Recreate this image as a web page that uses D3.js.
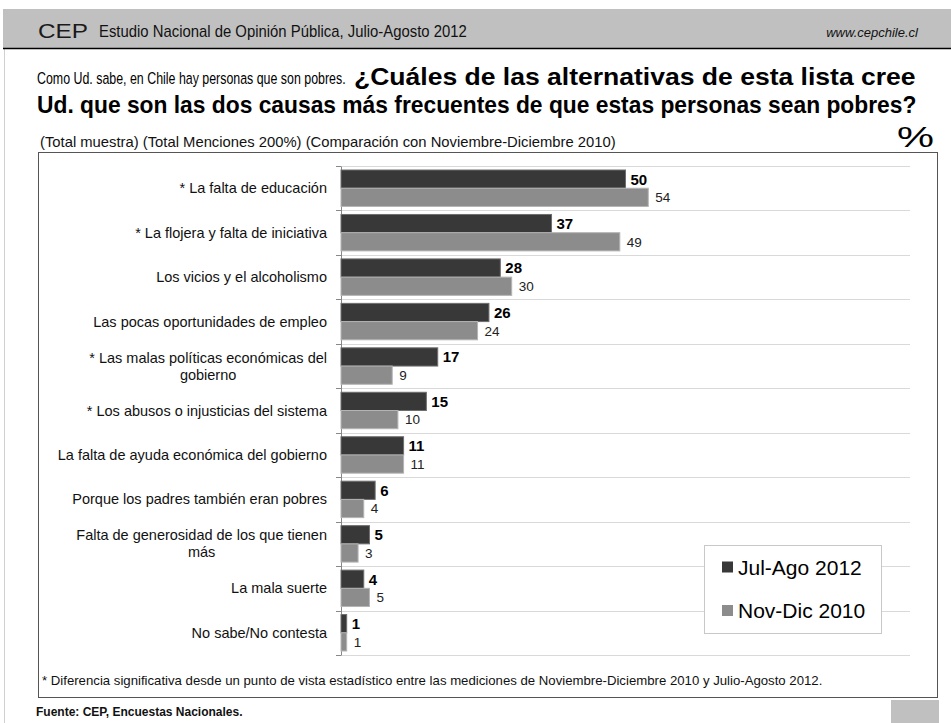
<!DOCTYPE html>
<html>
<head>
<meta charset="utf-8">
<script src="https://cdn.jsdelivr.net/npm/d3@7/dist/d3.min.js"></script>
<style>
  html, body { margin: 0; padding: 0; background: #fff; }
  svg { display: block; }
  text { font-family: "Liberation Sans", Arial, sans-serif; }
</style>
</head>
<body>
<svg id="chart" width="951" height="723"></svg>
<script>
const categories = [
  "* La falta de educación",
  "* La flojera y falta de iniciativa",
  "Los vicios y el alcoholismo",
  "Las pocas oportunidades de empleo",
  "* Las malas políticas económicas del|gobierno",
  "* Los abusos o injusticias del sistema",
  "La falta de ayuda económica del gobierno",
  "Porque los padres también eran pobres",
  "Falta de generosidad de los que tienen|más",
  "La mala suerte",
  "No sabe/No contesta"
];
const seriesNames = ["Jul-Ago 2012", "Nov-Dic 2010"];
const julAgo2012 = [50, 37, 28, 26, 17, 15, 11, 6, 5, 4, 1];
const novDic2010 = [54, 49, 30, 24, 9, 10, 11, 4, 3, 5, 1];
const xTicks = [0, 100];

const svg = d3.select("#chart");
const W = 951, H = 723;

// text scaled horizontally (via transform) to a target width
function fitText(opts) {
  const t = svg.append("text")
    .attr("font-size", opts.size)
    .attr("font-weight", opts.weight || "normal")
    .attr("font-style", opts.style || "normal")
    .attr("text-anchor", opts.anchor || "start")
    .attr("fill", opts.fill || "#111")
    .text(opts.text);
  if (opts.width) {
    const nat = t.node().getComputedTextLength();
    const sx = opts.width / nat;
    t.attr("x", 0).attr("y", 0)
     .attr("transform", `translate(${opts.x},${opts.y}) scale(${sx},1)`);
  } else {
    t.attr("x", opts.x).attr("y", opts.y);
  }
  return t;
}

// page left border line
svg.append("line").attr("x1", 4.5).attr("x2", 4.5).attr("y1", 49).attr("y2", H)
  .attr("stroke", "#d0d0d0").attr("stroke-width", 1);

// header band
svg.append("rect").attr("x", 3).attr("y", 9).attr("width", W - 3).attr("height", 39).attr("fill", "#c0c0c0");
svg.append("line").attr("x1", 3).attr("x2", W).attr("y1", 48.5).attr("y2", 48.5).attr("stroke", "#000").attr("stroke-width", 1.5);
fitText({x: 38, y: 38, size: 21, width: 50, fill: "#1a1a1a", text: "CEP"});
fitText({x: 99, y: 37, size: 16, width: 368, text: "Estudio Nacional de Opinión Pública, Julio-Agosto  2012"});
fitText({x: 918, y: 37, size: 13, style: "italic", anchor: "end", text: "www.cepchile.cl"});

// title
fitText({x: 37, y: 84, size: 16.5, width: 309, fill: "#000", text: "Como Ud. sabe, en Chile hay personas que son pobres."});
fitText({x: 354, y: 85, size: 23.5, weight: "bold", width: 562, fill: "#000", text: "¿Cuáles de las alternativas de esta lista cree"});
fitText({x: 37, y: 113, size: 23, weight: "bold", width: 880, fill: "#000", text: "Ud. que son las dos causas más frecuentes de que estas personas sean pobres?"});

// subtitle
fitText({x: 40, y: 147, size: 14.8, text: "(Total muestra) (Total Menciones 200%) (Comparación con Noviembre-Diciembre 2010)"});
fitText({x: 897, y: 147, size: 29, width: 37, fill: "#000", text: "%"});

// chart frame
svg.append("rect").attr("x", 38.5).attr("y", 152.5).attr("width", 899).attr("height", 545)
  .attr("fill", "none").attr("stroke", "#555").attr("stroke-width", 1);

// scales
const x = d3.scaleLinear().domain([xTicks[0], xTicks[1]]).range([341, 910]);
const y = d3.scaleBand().domain(categories).range([166, 655]).paddingInner(0).paddingOuter(0);
const ySub = d3.scaleBand().domain(seriesNames).range([0, y.bandwidth()]).paddingInner(0).paddingOuter(0.22);

// gridlines at category boundaries
const bounds = categories.map(c => y(c)).concat([y.range()[1]]);
svg.append("g").selectAll("line").data(bounds).join("line")
  .attr("x1", x(0)).attr("x2", x(100))
  .attr("y1", d => Math.round(d) + 0.5).attr("y2", d => Math.round(d) + 0.5)
  .attr("stroke", "#d9d9d9").attr("stroke-width", 1);

// axis
const axis = d3.axisLeft(y).tickSize(0).tickFormat("");
const gAxis = svg.append("g").attr("transform", `translate(${x(0)},0)`).call(axis);
gAxis.select(".domain").attr("stroke", "#888");
svg.append("g").selectAll("line").data(bounds).join("line")
  .attr("x1", x(0) - 5).attr("x2", x(0))
  .attr("y1", d => Math.round(d) + 0.5).attr("y2", d => Math.round(d) + 0.5)
  .attr("stroke", "#888");

// bars
const colors = ["#383838", "#8c8c8c"];
const strokes = ["#6e6e6e", "#b4b4b4"];
const seriesData = [julAgo2012, novDic2010];
seriesData.forEach((vals, si) => {
  const g = svg.append("g");
  g.selectAll("rect").data(vals).join("rect")
    .attr("x", x(0))
    .attr("y", (d, i) => y(categories[i]) + ySub(seriesNames[si]))
    .attr("width", d => x(d) - x(0))
    .attr("height", ySub.bandwidth())
    .attr("fill", colors[si]).attr("stroke", strokes[si]).attr("stroke-width", 1);
  g.selectAll("text").data(vals).join("text")
    .attr("x", d => x(d) + (si === 0 ? 5 : 7))
    .attr("y", (d, i) => y(categories[i]) + ySub(seriesNames[si]) + ySub.bandwidth() / 2)
    .attr("dy", "0.36em")
    .attr("font-size", si === 0 ? 15 : 13.5)
    .attr("font-weight", si === 0 ? "bold" : "normal")
    .attr("fill", si === 0 ? "#000" : "#222")
    .text(d => d);
});

// category labels
const labelRight = 327;
categories.forEach(c => {
  const lines = c.split("|");
  const cy = y(c) + y.bandwidth() / 2;
  const lh = 17;
  const t = svg.append("text").attr("font-size", 14.5).attr("fill", "#111");
  const spans = lines.map(ln => t.append("tspan").text(ln));
  const widths = spans.map(s => s.node().getComputedTextLength());
  const maxW = Math.max(...widths);
  const cx = labelRight - maxW / 2;
  spans.forEach((s, i) => {
    s.attr("x", cx).attr("text-anchor", "middle")
     .attr("y", cy + (i - (lines.length - 1) / 2) * lh).attr("dy", "0.35em");
  });
});

// legend
const lg = svg.append("g");
lg.append("rect").attr("x", 704.5).attr("y", 545.5).attr("width", 177).attr("height", 88)
  .attr("fill", "#fff").attr("stroke", "#c8c8c8");
seriesNames.forEach((s, i) => {
  const ly = 567 + i * 43.5;
  lg.append("rect").attr("x", 722).attr("y", ly - 5.5).attr("width", 11).attr("height", 11).attr("fill", colors[i]);
  lg.append("text").attr("x", 738).attr("y", ly).attr("dy", "0.36em")
    .attr("font-size", 21).attr("fill", "#000").text(s);
});

// footnote
fitText({x: 42, y: 685, size: 13.2, width: 780, text: "* Diferencia significativa desde un punto de vista estadístico entre las mediciones de Noviembre-Diciembre 2010 y Julio-Agosto 2012."});
fitText({x: 36, y: 716, size: 12, weight: "bold", text: "Fuente: CEP, Encuestas Nacionales."});
svg.append("rect").attr("x", 891).attr("y", 700).attr("width", 48).attr("height", 23).attr("fill", "#c0c0c0");
</script>
</body>
</html>
